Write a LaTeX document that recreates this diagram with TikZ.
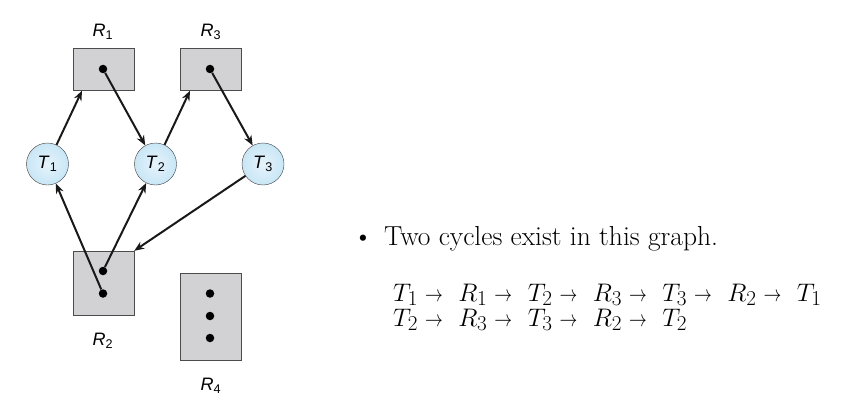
\documentclass[tikz,border=0pt]{standalone}
\usepackage{fontspec}
\newfontfamily\lblfont{Liberation Sans}
\usetikzlibrary{arrows.meta}
\definecolor{resgray}{RGB}{210,210,212}
\definecolor{procblue}{RGB}{200,230,246}
\newcommand{\lbl}[2]{{\lblfont\textit{#1}\textsubscript{#2}}}
\newcommand{\nxt}{\mkern5mu\scalebox{0.7}[0.9]{$\rightarrow$}\mkern11mu}
\newcommand{\cyc}[1]{\scalebox{1.02}{$#1$}}

\tikzset{
  res/.style={draw=black!70,fill=resgray,rectangle,inner sep=0pt},
  proc/.style={draw=black!75,inner color=procblue!45,outer color=procblue,circle,minimum size=42pt,inner sep=0pt,font=\fontsize{18}{18}\selectfont},
  tok/.style={fill=black,circle,minimum size=8.5pt,inner sep=0pt},
  edge/.style={-{Stealth[length=10pt,width=8pt]},line width=2pt,black!90},
  rname/.style={font=\fontsize{18}{18}\selectfont},
  cycle/.style={anchor=base west,font=\fontsize{24.88}{24.88}\selectfont,inner sep=0pt}
}

\begin{document}
\begin{tikzpicture}[x=1pt, y=-1pt]
      \useasboundingbox (0,0) rectangle (851,412);
      \node[res,minimum width=61pt,minimum height=42pt] (R1) at (103.5, 69.5) {};
      \node[res,minimum width=61pt,minimum height=42pt] (R3) at (211, 69.5) {};
      \node[res,minimum width=61pt,minimum height=64pt] (R2) at (103.5, 283) {};
      \node[res,minimum width=61pt,minimum height=87pt] (R4) at (211, 316.5) {};
      \node[tok] (r1a) at (103, 69) {};
      \node[tok] (r3a) at (210, 69) {};
      \node[tok] (r2a) at (103, 271) {};
      \node[tok] (r2b) at (103, 293.5) {};
      \node[tok] (r4a) at (210, 293.5) {};
      \node[tok] (r4b) at (210, 316) {};
      \node[tok] (r4c) at (210, 338) {};
      \node[rname] (lR1) at (103, 32) {\lbl{R}{1}};
      \node[rname] (lR3) at (211, 32) {\lbl{R}{3}};
      \node[rname] (lR2) at (103, 341) {\lbl{R}{2}};
      \node[rname] (lR4) at (211, 386) {\lbl{R}{4}};
      \node[proc] (T1) at (47.5, 164) {\lbl{T}{1}};
      \node[proc] (T2) at (155.5, 164) {\lbl{T}{2}};
      \node[proc] (T3) at (263, 164) {\lbl{T}{3}};
      \draw[edge] (T1) -- (R1.south west -| 82,0);
      \draw[edge] (r1a) -- (T2);
      \draw[edge] (T2) -- (R3.south west -| 190,0);
      \draw[edge] (r3a) -- (T3);
      \draw[edge] (T3) -- (R2.north east);
      \draw[edge] (r2b) -- (T1);
      \draw[edge] (r2a) -- (T2);
      % cycles in the graph
      \node[anchor=base west,font=\fontsize{27.5}{27.5}\selectfont,inner sep=0pt] (bul) at (353, 245) {\textbullet\hspace{11pt}Two cycles exist in this graph.};
      \node[cycle] (cyc1) at (393, 301)
        {\cyc{T_1 \nxt R_1 \nxt T_2 \nxt R_3 \nxt T_3 \nxt R_2 \nxt T_1}};
      \node[cycle] (cyc2) at (393, 326)
        {\cyc{T_2 \nxt R_3 \nxt T_3 \nxt R_2 \nxt T_2}};
   \end{tikzpicture}
\end{document}
